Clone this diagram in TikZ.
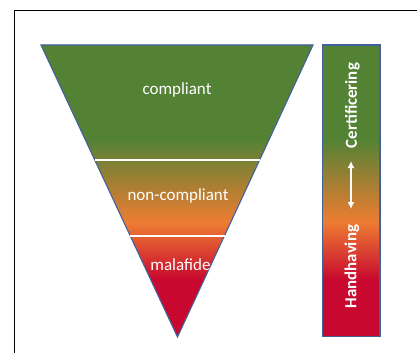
\documentclass[tikz,border=0pt]{standalone}
\usepackage{fontspec}
\usetikzlibrary{arrows.meta}
\setmainfont{Carlito}
\definecolor{gGreen}{HTML}{548235}
\definecolor{gOrange}{HTML}{ED7D31}
\definecolor{gRed}{HTML}{C8082F}
\definecolor{edgeBlue}{HTML}{44609C}
\pgfdeclareverticalshading{funnelshade}{100bp}{
  color(0bp)=(gRed); color(34.75bp)=(gRed); color(44.7bp)=(gOrange);
  color(58.75bp)=(gGreen); color(100bp)=(gGreen)}
\tikzset{
  shaded shape/.style={draw=edgeBlue,line width=1.1pt,shading=funnelshade,line join=miter},
  divider/.style={draw=white,line width=1.4pt},
  label text/.style={text=white,font=\fontsize{17}{19}\selectfont,inner sep=0pt},
  side text/.style={label text,rotate=90,font=\fontsize{16.8}{19}\selectfont\bfseries},
  frame line/.style={draw=black,line width=1.7pt}
}
\begin{document}
\begin{tikzpicture}[x=1pt,y=-1pt]
\useasboundingbox (0,0) rectangle (417,353);
\fill[white] (0,0) rectangle (417,353);
\coordinate (fa) at (14.5,353);
\coordinate (fb) at (14.5,10.5);
\coordinate (fc) at (417,10.5);
\draw[frame line] (fa) -- (fb) -- (fc);
\coordinate (tl) at (41,45);
\coordinate (tr) at (313,45);
\coordinate (ap) at (177.5,337);
\path[shaded shape] (tl) -- (tr) -- (ap) -- cycle;
\path[shaded shape] (322.5,45) rectangle (380,336.5);
\coordinate (d1a) at (95,160);
\coordinate (d1b) at (260,160);
\coordinate (d2a) at (130,236);
\coordinate (d2b) at (225,236);
\draw[divider] (d1a) -- (d1b);
\draw[divider] (d2a) -- (d2b);
\node[label text] (comp) at (177,90) {compliant};
\node[label text] (noncomp) at (178,195.5) {non-compliant};
\node[label text] (mala) at (180.5,265) {malafide};
\node[side text] (cert) at (352.5,105.5) {Certificering};
\node[side text] (hand) at (352,266.5) {Handhaving};
\coordinate (up) at (351,161);
\coordinate (dn) at (351,209);
\draw[draw=white,line width=1.3pt,{Latex[length=7pt,width=7pt]}-{Latex[length=7pt,width=7pt]}] (up) -- (dn);
\end{tikzpicture}
\end{document}
